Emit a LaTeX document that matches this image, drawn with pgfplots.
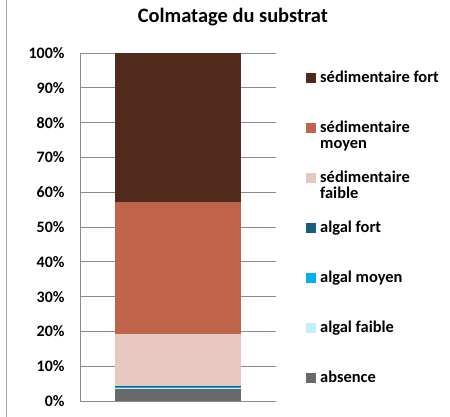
\documentclass[border=0pt]{standalone}
\usepackage{pgfplots}
\pgfplotsset{compat=1.18}
\usepackage{fontspec}
\setmainfont{Carlito}
\definecolor{sedfort}{HTML}{512A1E}
\definecolor{sedmoyen}{HTML}{C0634B}
\definecolor{sedfaible}{HTML}{E8C9BF}
\definecolor{algfort}{HTML}{185F7D}
\definecolor{algmoyen}{HTML}{00B0F0}
\definecolor{algfaible}{HTML}{C6EFFC}
\definecolor{absence}{HTML}{696969}
\definecolor{gridc}{HTML}{8C8C8C}
\begin{document}
\begin{tikzpicture}
\begin{axis}[
  scale only axis, width=196bp, height=348bp,
  ybar stacked, bar width=126bp,
  xmin=-1, xmax=1, ymin=0, ymax=100,
  xtick=\empty,
  ytick={0,10,20,30,40,50,60,70,80,90,100},
  yticklabels={0\%,10\%,20\%,30\%,40\%,50\%,60\%,70\%,80\%,90\%,100\%},
  yticklabel style={font=\bfseries\fontsize{16}{18}\selectfont, anchor=east, xshift=-12bp},
  major tick length=0pt,
  ymajorgrids, grid style={gridc, line width=0.9bp},
  axis lines*=left,
  axis line style={gridc, line width=0.9bp},
  title={Colmatage du substrat},
  title style={font=\bfseries\fontsize{20.5}{24}\selectfont, at={(0.78,1)}, anchor=base, yshift=25bp},
  reverse legend,
  legend cell align=left,
  legend image code/.code={\fill[#1] (0bp,-0.5bp) rectangle (10bp,9.5bp);},
  legend style={at={(1.153,0.945)}, anchor=north west, draw=none, fill=none, inner sep=0pt,
    row sep=0pt, /tikz/column sep=0pt,
    font=\bfseries\fontsize{16.5}{16.5}\selectfont,
    nodes={inner ysep=0pt, inner xsep=4bp, text height=10bp, text depth=40bp, anchor=base west}},
]
\addplot[fill=absence, draw=none] coordinates {(0,3.4)};
\addlegendentry{absence}
\addplot[fill=algfaible, draw=none] coordinates {(0,0.3)};
\addlegendentry{algal faible}
\addplot[fill=algmoyen, draw=none] coordinates {(0,0.3)};
\addlegendentry{algal moyen}
\addplot[fill=algfort, draw=none] coordinates {(0,0.4)};
\addlegendentry{algal fort}
\addplot[fill=sedfaible, draw=none] coordinates {(0,14.9)};
\addlegendentry{\parbox[t]{120bp}{sédimentaire\\faible}}
\addplot[fill=sedmoyen, draw=none] coordinates {(0,37.9)};
\addlegendentry{\parbox[t]{120bp}{sédimentaire\\moyen}}
\addplot[fill=sedfort, draw=none] coordinates {(0,42.8)};
\addlegendentry{sédimentaire fort}
\end{axis}
\pgfresetboundingbox
\path[use as bounding box] ([xshift=-80bp,yshift=-16bp]current axis.south west) rectangle ([xshift=174bp,yshift=53bp]current axis.north east);
\draw[gridc!80, line width=1bp] ([xshift=-73bp,yshift=-16bp]current axis.south west) -- ([xshift=-73bp,yshift=53bp]current axis.north west);
\end{tikzpicture}
\end{document}
